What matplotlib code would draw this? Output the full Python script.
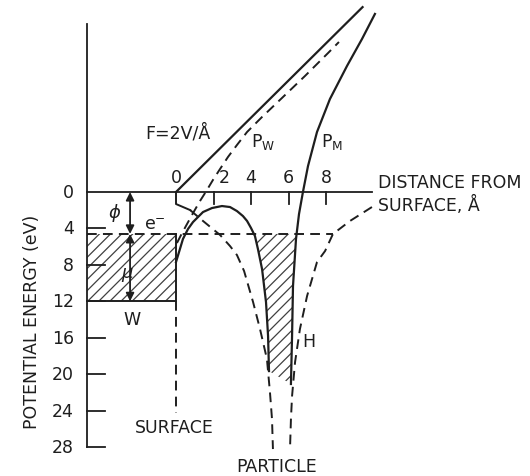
import numpy as np
import matplotlib
matplotlib.use("Agg")
import matplotlib.pyplot as plt
from matplotlib.patches import Rectangle, Polygon

plt.rcParams["font.family"] = ["DejaVu Sans"]
plt.rcParams["hatch.linewidth"] = 0.9
plt.rcParams["hatch.color"] = "#404040"

# distance from surface (Angstrom) and potential energy (eV, positive downward)
fermi = 4.6
metal_left = -4.75
metal_bottom = 12.0

field_x = [0.0, 9.95]
field_e = [0.0, -20.3]

pw_x = [0.05, 0.27, 0.53, 0.91, 1.28, 1.65, 1.97, 2.35, 2.77, 3.25, 3.79, 4.59, 5.65, 6.88, 8.11, 8.69]
pw_e = [5.60, 4.72, 3.73, 2.31, 0.99, -0.22, -1.32, -2.53, -3.84, -5.16, -6.59, -8.24, -10.32, -12.74, -15.26, -16.47]

kink_x = [0.0, 0.0, 0.75]
kink_e = [0.0, 1.32, 1.98]

well_left_x = [0.75, 1.44, 2.35, 2.88, 3.25, 3.63, 4.11, 4.48, 4.85, 5.01, 5.12, 5.17]
well_left_e = [1.98, 3.18, 4.72, 5.93, 6.92, 8.67, 12.08, 15.04, 18.34, 21.96, 24.93, 28.22]

h_x = [10.45, 9.28, 8.37, 7.95, 7.52, 6.99, 6.61, 6.35, 6.19, 6.13, 6.08]
h_e = [1.65, 3.18, 4.61, 6.48, 7.69, 11.42, 15.04, 18.67, 22.40, 24.93, 28.22]

hump_x = [0.0, 0.21, 0.37, 0.64, 0.91, 1.44, 1.92, 2.45, 2.88, 3.25, 3.57, 3.79, 4.00, 4.21,
          4.37, 4.59, 4.80, 4.91, 4.96]
hump_e = [7.69, 6.26, 5.16, 4.06, 3.29, 2.20, 1.76, 1.54, 1.65, 2.09, 2.64, 3.18, 3.95, 4.83,
          6.26, 8.46, 12.08, 15.81, 19.66]

pm_x = [10.61, 9.92, 9.12, 8.21, 7.52, 7.04, 6.77, 6.56, 6.40, 6.24, 6.19, 6.13]
pm_e = [-19.55, -16.80, -13.84, -10.21, -6.59, -2.85, 0.0, 2.42, 5.16, 10.32, 15.81, 21.08]

x_ticks = [2, 4, 6, 8]
x_ticklabels = ["0", "2", "4", "6", "8"]
y_ticks = [0, 4, 8, 12, 16, 20, 24, 28]

ink = "#1e1e1e"
dash = (0, (5, 3.2))

fig = plt.figure(figsize=(5.3, 4.77), dpi=100)
ax = fig.add_axes([0, 0, 1, 1])
ax.set_xlim(-9.387, 18.88)
ax.set_ylim(31.18, -21.19)
ax.axis("off")

# hatched regions
ax.add_patch(Rectangle((metal_left, fermi), -metal_left, metal_bottom - fermi,
                       facecolor="none", edgecolor="#404040", hatch="///", linewidth=0))
hx = np.array(hump_x)
he = np.array(hump_e)
peak = np.argmin(he)
lx, le = hx[peak:], he[peak:]
x_cl = np.interp(fermi, le, lx)
rx, re = np.array(pm_x), np.array(pm_e)
x_cr = np.interp(fermi, re, rx)
poly = [(x_cl, fermi)] + [(a, b) for a, b in zip(lx, le) if b > fermi]
poly += [(a, b) for a, b in zip(rx[::-1], re[::-1]) if b > fermi]
poly += [(x_cr, fermi)]
ax.add_patch(Polygon(poly, closed=True, facecolor="none", edgecolor="#404040",
                     hatch="///", linewidth=0))

# axes
ax.plot([metal_left, metal_left], [-18.4, 28], color=ink, lw=1.3)
ax.plot([metal_left, 10.45], [0, 0], color=ink, lw=1.3)
for t in y_ticks[1:]:
    ax.plot([metal_left, metal_left + 0.96], [t, t], color=ink, lw=1.3)
    ax.text(-5.45, t, str(t), ha="right", va="center", fontsize=12.5, color=ink)
ax.text(-5.45, 0, "0", ha="right", va="center", fontsize=12.5, color=ink)
for t in x_ticks:
    ax.plot([t, t], [0, 1.35], color=ink, lw=1.3)
for t, lab in zip([0] + x_ticks, x_ticklabels):
    shift = 0.55 if t == 2 else 0.0
    ax.text(t + shift, -0.7, lab, ha="center", va="bottom", fontsize=12.5, color=ink)

# metal box
ax.plot([metal_left, 0, 0], [metal_bottom, metal_bottom, fermi], color=ink, lw=1.4)
ax.plot([0, 0], [metal_bottom, 24.3], color=ink, lw=1.4, linestyle=dash)
ax.plot([metal_left, 8.37], [fermi, fermi], color=ink, lw=1.4, linestyle=dash)

# potential curves
ax.plot(field_x, field_e, color=ink, lw=1.6)
ax.plot(pw_x, pw_e, color=ink, lw=1.4, linestyle=dash)
ax.plot(kink_x, kink_e, color=ink, lw=1.4)
ax.plot(well_left_x, well_left_e, color=ink, lw=1.4, linestyle=dash)
ax.plot(h_x, h_e, color=ink, lw=1.4, linestyle=dash)
ax.plot(hump_x, hump_e, color=ink, lw=1.6)
ax.plot(pm_x, pm_e, color=ink, lw=1.6)

# arrows
arrow = dict(arrowstyle="<|-|>", color=ink, lw=1.3, mutation_scale=12, shrinkA=0, shrinkB=0)
ax.annotate("", xy=(-2.45, 0), xytext=(-2.45, fermi), arrowprops=arrow)
ax.annotate("", xy=(-2.45, fermi), xytext=(-2.45, metal_bottom), arrowprops=arrow)

# labels
ax.text(-7.68, 14.2, "POTENTIAL ENERGY (eV)", rotation=90, ha="center", va="center",
        fontsize=12.5, color=ink)
ax.text(10.77, -1.1, "DISTANCE FROM", ha="left", va="center", fontsize=12.5, color=ink)
ax.text(10.77, 1.35, "SURFACE, Å", ha="left", va="center", fontsize=12.5, color=ink)
ax.text(0.1, -6.6, "F=2V/Å", ha="center", va="center", fontsize=12.5, color=ink)
ax.text(4.0, -5.6, r"P$_\mathregular{W}$", ha="left", va="center", fontsize=12.5, color=ink)
ax.text(7.75, -5.6, r"P$_\mathregular{M}$", ha="left", va="center", fontsize=12.5, color=ink)
ax.text(-3.25, 2.2, r"$\phi$", ha="center", va="center", fontsize=13, color=ink)
ax.text(-1.12, 3.5, r"e$^{-}$", ha="center", va="center", fontsize=12.5, color=ink)
ax.text(-2.61, 9.0, r"$\mu$", ha="center", va="center", fontsize=13, color=ink)
ax.text(-2.35, 13.9, "W", ha="center", va="center", fontsize=12.5, color=ink)
ax.text(7.09, 16.4, "H", ha="center", va="center", fontsize=12.5, color=ink)
ax.text(-0.1, 25.8, "SURFACE", ha="center", va="center", fontsize=12.5, color=ink)
ax.text(5.35, 30.1, "PARTICLE", ha="center", va="center", fontsize=12.5, color=ink)

fig.savefig("out.png", dpi=100, facecolor="white")
